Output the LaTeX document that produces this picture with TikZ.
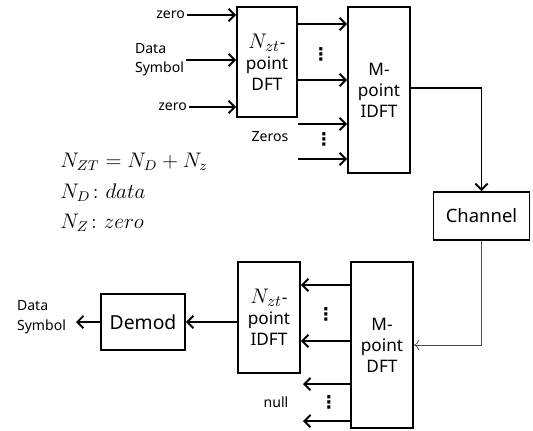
\documentclass[tikz,border=0pt]{standalone}
\usepackage{amsmath}
\usepackage{fontspec}
\setmainfont{Noto Sans}
\newfontfamily\symfont{DejaVu Sans}
\usetikzlibrary{arrows.meta,positioning}

\begin{document}
\begin{tikzpicture}[x=0.02cm,y=-0.02cm,
    blk/.style={draw,line width=1.1pt,align=center,inner sep=1pt,font=\fontsize{9.8}{12}\selectfont},
    arr/.style={-{Straight Barb[length=3.5pt,width=7pt]},line width=1.1pt},
    lbl/.style={font=\fontsize{8}{11}\selectfont,align=left,inner sep=1pt},
    dts/.style={font=\symfont\bfseries\fontsize{10}{10}\selectfont,inner sep=0pt},
    eqn/.style={anchor=west,font=\fontsize{11.5}{12}\selectfont,inner sep=0pt}]
    \newcommand\nzt{{\fontsize{12.5}{12}\selectfont$N_{zt}$}}
    \useasboundingbox (0,0) rectangle (533,430);
    % transmitter
    \node[blk,minimum width=1.2cm,minimum height=2.2cm] (dft) at (267,62) {\nzt-\\point\\DFT};
    \node[blk,minimum width=1.24cm,minimum height=3.32cm] (idft) at (379,90) {M-\\point\\IDFT};
    \node[blk,minimum width=1.92cm,minimum height=0.96cm,font=\fontsize{10.5}{12}\selectfont] (chan) at (481.5,216) {Channel};
    \node[lbl,anchor=east] (zeroA) at (187,15) {zero};
    \node[lbl,anchor=east] (dsym) at (186,60) {Data\\Symbol};
    \node[lbl,anchor=east] (zeroB) at (189,107) {zero};
    \node[lbl] (zeros) at (270,137) {Zeros};
    \node[dts] (vdA) at (321,54) {⋮};
    \node[dts] (vdB) at (324,139) {⋮};
    \draw[arr] (zeroA.east) -- (zeroA -| dft.west);
    \draw[arr] (dsym.east) -- (dsym -| dft.west);
    \draw[arr] (zeroB.east) -- (zeroB -| dft.west);
    \coordinate (t1) at (0,24); \coordinate (t2) at (0,80);
    \draw[arr] (dft.east |- t1) -- (idft.west |- t1);
    \draw[arr] (dft.east |- t2) -- (idft.west |- t2);
    \coordinate (z1) at (298,124); \coordinate (z2) at (298,159);
    \draw[arr] (z1) -- (z1 -| idft.west);
    \draw[arr] (z2) -- (z2 -| idft.west);
    \draw[arr] ([yshift=0.04cm]idft.east) -| (chan.north);
    % receiver
    \node[blk,minimum width=1.24cm,minimum height=3.32cm] (mdft) at (382,345) {M-\\point\\DFT};
    \node[blk,minimum width=1.24cm,minimum height=2.22cm] (iidft) at (269,317.5) {\nzt-\\point\\IDFT};
    \node[blk,minimum width=1.68cm,minimum height=1.12cm,font=\fontsize{11}{13}\selectfont] (demod) at (143,322) {Demod};
    \node[lbl,anchor=east] (dsout) at (68,317) {Data\\Symbol};
    \node[lbl] (null) at (276,402) {null};
    \node[dts] (vdC) at (326,314) {⋮};
    \node[dts] (vdD) at (329,402) {⋮};
    \draw[-{To[length=3pt,width=6pt]},thin,black!70] (chan.south) |- (mdft.east);
    \coordinate (r1) at (0,285); \coordinate (r2) at (0,341);
    \draw[arr] (mdft.west |- r1) -- (iidft.east |- r1);
    \draw[arr] (mdft.west |- r2) -- (iidft.east |- r2);
    \coordinate (n1) at (303,384); \coordinate (n2) at (303,421);
    \draw[arr] (mdft.west |- n1) -- (n1);
    \draw[arr] (mdft.west |- n2) -- (n2);
    \draw[arr] (iidft.west |- demod.east) -- (demod.east);
    \draw[arr,shorten >=0.16cm] (demod.west) -- (demod.west -| dsout.east);
    % equations
    \node[eqn] (eq1) at (60,162) {$N_{ZT}=N_D+N_z$};
    \node[eqn] (eq2) at (60,193) {$N_D\colon data$};
    \node[eqn] (eq3) at (60,223) {$N_Z\colon zero$};
\end{tikzpicture}
\end{document}
